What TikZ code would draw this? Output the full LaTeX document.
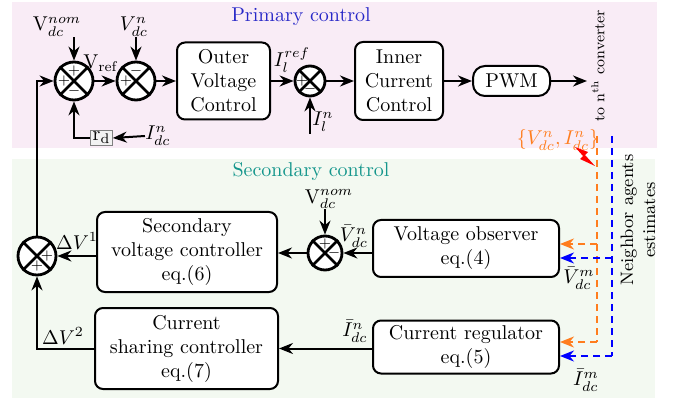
\documentclass[tikz,border=0pt]{standalone}
\usepackage{amsmath}
\usepackage{xcolor}
\usetikzlibrary{arrows.meta, calc, positioning}
\definecolor{primbg}{RGB}{249,236,246}
\definecolor{secbg}{RGB}{243,249,241}
\definecolor{primtxt}{RGB}{40,40,200}
\definecolor{sectxt}{RGB}{20,150,140}
\definecolor{nborange}{RGB}{255,125,30}
\tikzset{
  block/.style={draw, line width=1pt, rounded corners=4pt, align=center, fill=white, inner sep=1pt},
  summer/.style={draw, circle, line width=1.4pt, minimum size=17pt, inner sep=0pt, fill=white},
  sgn/.style={font=\scriptsize, inner sep=0pt},
  lbl/.style={inner sep=0pt},
  wire/.style={line width=1pt},
  arr/.style={line width=1pt, -{Stealth[length=7pt,width=5.5pt]}},
  odash/.style={nborange, line width=1pt, dash pattern=on 3.5pt off 2.5pt},
  bdash/.style={blue, line width=1pt, dash pattern=on 3.5pt off 2.5pt},
}

\begin{document}
\begin{tikzpicture}[x=0.5pt, y=-0.5pt]
  \useasboundingbox (0,0) rectangle (673,405);
  % background panels
  \fill[primbg] (12,2) rectangle (657,148);
  \fill[secbg] (12,159) rectangle (655,398);
  \node[text=primtxt] (ptitle) at (301,17) {Primary control};
  \node[text=sectxt] (stitle) at (311,172) {Secondary control};

  % primary control
  \node[summer, minimum size=19pt] (s1) at (74,81) {};
  \node[summer, minimum size=19pt] (s2) at (136,81) {};
  \node[block, minimum width=46.5pt, minimum height=38.5pt] (outer) at (223.5,81) {Outer\\Voltage\\Control};
  \node[summer, minimum size=15pt] (s3) at (310,81) {};
  \node[block, minimum width=44pt, minimum height=39pt] (inner) at (399,81) {Inner\\Current\\Control};
  \node[block, minimum width=38.5pt, minimum height=15pt, rounded corners=6pt] (pwm) at (511.5,81) {PWM};
  \coordinate (conv) at (587,81);
  \node[font=\fontsize{7.5}{9}\selectfont, rotate=90] (convtxt) at (598,66) {to n$^{\mathrm{th}}$ converter};

  \node[lbl] (vnom1) at (57,27) {$\mathrm{V}_{dc}^{nom}$};
  \node[lbl] (vn) at (134,27) {$V_{dc}^{n}$};
  \node[lbl] (vref) at (101,63) {$\mathrm{V}_{\mathrm{ref}}$};
  \node[lbl] (ilref) at (292,60) {$I_l^{ref}$};
  \node[lbl] (iln) at (323,122) {$I_l^{n}$};
  \coordinate (ilnt) at (310,134);
  \node[draw=gray, fill=gray!10, inner sep=1pt, line width=0.5pt] (rd) at (101.5,138) {$\mathrm{r_d}$};
  \node[lbl] (idc) at (158,136) {$I_{dc}^{n}$};

  \draw[arr] (vnom1.south -| s1.north) -- (s1.north);
  \draw[arr] (vn.south -| s2.north) -- (s2.north);
  \draw[arr] (s1) -- (s2);
  \draw[arr] (s2) -- (outer);
  \draw[arr] (outer) -- (s3);
  \draw[arr] (ilnt) -- (s3.south);
  \draw[arr] (s3) -- (inner);
  \draw[arr] (inner) -- (pwm);
  \draw[arr] (pwm) -- (conv);
  \draw[arr] (idc.west) -- (rd.east);
  \draw[arr] (rd.west) -| (s1.south);

  % secondary control
  \node[summer, minimum size=17pt] (s4) at (325,253) {};
  \node[summer, minimum size=19pt] (s5) at (37,256) {};
  \node[block, minimum width=90pt, minimum height=40pt] (secv) at (187,252) {Secondary\\voltage controller\\eq.(6)};
  \node[block, minimum width=93pt, minimum height=28.5pt] (vobs) at (466,248.5) {Voltage observer\\eq.(4)};
  \node[block, minimum width=93pt, minimum height=26.5pt] (creg) at (466,347) {Current regulator\\eq.(5)};
  \node[block, minimum width=91.5pt, minimum height=40.5pt] (csc) at (186.5,348.5) {Current\\sharing controller\\eq.(7)};

  \node[lbl] (vnom2) at (329,199) {$\mathrm{V}_{dc}^{nom}$};
  \node[lbl] (vbarn) at (354,236) {$\bar{V}_{dc}^{n}$};
  \node[lbl] (dv1) at (77,241) {$\Delta V^1$};
  \node[lbl] (dv2) at (63,336) {$\Delta V^2$};
  \node[lbl] (ibarn) at (355,331) {$\bar{I}_{dc}^{n}$};

  \draw[arr] (vnom2.south -| s4.north) -- (s4.north);
  \draw[arr] (vobs.west |- s4) -- (s4.east);
  \draw[arr] (s4.west) -- (s4 -| secv.east);
  \draw[arr] (secv.west |- s5) -- (s5.east);
  \draw[arr] (creg.west |- csc) -- (csc.east);
  \draw[arr] (csc.west) -| (s5.south);
  \draw[arr] (s5.north) |- (s1.west);

  % summing junction crosses and signs
  \foreach \s in {s1,s2,s3,s4,s5}
    \draw[line width=1.4pt] (\s.north east) -- (\s.south west) (\s.north west) -- (\s.south east);
  \node[sgn] at ($(s1)+(0,-10)$) {$+$};
  \node[sgn] at ($(s1)+(-10,0)$) {$+$};
  \node[sgn] at ($(s1)+(0,10)$) {$-$};
  \node[sgn] at ($(s2)+(0,-10)$) {$-$};
  \node[sgn] at ($(s2)+(-10,0)$) {$+$};
  \node[sgn] at ($(s3)+(-8,0)$) {$+$};
  \node[sgn] at ($(s3)+(0,8)$) {$-$};
  \node[sgn] at ($(s4)+(0,-9)$) {$+$};
  \node[sgn] at ($(s4)+(9,0)$) {$-$};
  \node[sgn] at ($(s5)+(10,0)$) {$+$};
  \node[sgn] at ($(s5)+(0,10)$) {$+$};

  % neighbour agent links
  \node[lbl, text=nborange] (nbrset) at (558,140) {$\{V_{dc}^{n}, I_{dc}^{n}\}$};
  \fill[red] (575,147) -- (588,152) -- (585,155) -- (595,166) -- (580,159) -- (583,156) -- cycle;
  \coordinate (otop) at (597,136);
  \coordinate (o1) at (597,244);
  \coordinate (o2) at (597,342);
  \coordinate (btop) at (612,136);
  \coordinate (b1) at (612,258);
  \coordinate (b2) at (612,356);
  \draw[odash] (otop) -- (o2);
  \draw[bdash] (btop) -- (b2);
  \draw[odash, -{Stealth[length=7pt,width=5.5pt]}] (o1) -- (o1 -| vobs.east);
  \draw[odash, -{Stealth[length=7pt,width=5.5pt]}] (o2) -- (o2 -| creg.east);
  \draw[bdash, -{Stealth[length=7pt,width=5.5pt]}] (b1) -- (b1 -| vobs.east);
  \draw[bdash, -{Stealth[length=7pt,width=5.5pt]}] (b2) -- (b2 -| creg.east);
  \node[lbl] (vbarm) at (579,278) {$\bar{V}_{dc}^{m}$};
  \node[lbl] (ibarm) at (586,380) {$\bar{I}_{dc}^{m}$};
  \node[font=\small, rotate=90, align=center] (nbrtxt) at (638,220) {Neighbor agents\\estimates};
\end{tikzpicture}
\end{document}
